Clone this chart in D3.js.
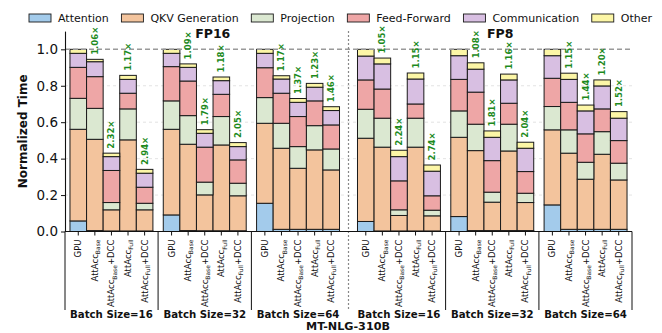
<!DOCTYPE html>
<html><head><meta charset="utf-8">
<script src="https://cdn.jsdelivr.net/npm/d3@7"></script>
<style>body{margin:0;background:#fff} svg{display:block;font-family:"DejaVu Sans",sans-serif}</style>
</head><body><svg id="c" width="662" height="333"></svg>
<script>
// ---------- data ----------
const precisions = ["FP16", "FP8"];
const batchLabels = ["Batch Size=16", "Batch Size=32", "Batch Size=64"];
const configs = ["GPU", "AttAcc_Base", "AttAcc_Base+DCC", "AttAcc_Full", "AttAcc_Full+DCC"];
const seriesNames = ["Attention", "QKV Generation", "Projection", "Feed-Forward", "Communication", "Other"];
const seriesColors = ["#a3cbeb", "#f3c49d", "#dbe8d1", "#eea6a6", "#d8bfe2", "#fcf6a6"];
// order: FP16 B16 (5 bars), FP16 B32, FP16 B64, FP8 B16, FP8 B32, FP8 B64
const attention = [
  0.058, 0.005, 0.003, 0.003, 0.003,
  0.091, 0.005, 0.004, 0.004, 0.004,
  0.155, 0.012, 0.012, 0.012, 0.012,
  0.055, 0.003, 0.003, 0.003, 0.003,
  0.082, 0.005, 0.005, 0.005, 0.005,
  0.146, 0.012, 0.012, 0.012, 0.012];
const qkvGeneration = [
  0.503, 0.501, 0.116, 0.500, 0.116,
  0.470, 0.474, 0.197, 0.471, 0.192,
  0.439, 0.445, 0.335, 0.436, 0.326,
  0.457, 0.460, 0.085, 0.460, 0.083,
  0.435, 0.439, 0.156, 0.437, 0.154,
  0.412, 0.418, 0.275, 0.412, 0.271];
const projection = [
  0.170, 0.170, 0.040, 0.170, 0.036,
  0.156, 0.157, 0.070, 0.156, 0.069,
  0.141, 0.137, 0.119, 0.133, 0.115,
  0.159, 0.159, 0.031, 0.159, 0.031,
  0.145, 0.145, 0.055, 0.147, 0.051,
  0.128, 0.128, 0.093, 0.124, 0.092];
const feedForward = [
  0.170, 0.174, 0.176, 0.086, 0.088,
  0.188, 0.190, 0.192, 0.122, 0.128,
  0.164, 0.165, 0.165, 0.136, 0.132,
  0.161, 0.160, 0.159, 0.078, 0.079,
  0.173, 0.176, 0.173, 0.115, 0.119,
  0.155, 0.151, 0.156, 0.125, 0.124];
const communication = [
  0.077, 0.082, 0.076, 0.076, 0.077,
  0.073, 0.075, 0.076, 0.075, 0.073,
  0.079, 0.078, 0.078, 0.075, 0.079,
  0.131, 0.138, 0.133, 0.137, 0.135,
  0.130, 0.126, 0.128, 0.128, 0.128,
  0.124, 0.126, 0.126, 0.126, 0.123];
const other = [
  0.022, 0.013, 0.019, 0.022, 0.021,
  0.022, 0.019, 0.020, 0.020, 0.022,
  0.022, 0.018, 0.021, 0.021, 0.021,
  0.037, 0.032, 0.035, 0.033, 0.034,
  0.035, 0.035, 0.035, 0.032, 0.033,
  0.035, 0.034, 0.032, 0.033, 0.036];
const speedupLabels = [
  "", "1.06×", "2.32×", "1.17×", "2.94×",
  "", "1.09×", "1.79×", "1.18×", "2.05×",
  "", "1.17×", "1.37×", "1.23×", "1.46×",
  "", "1.05×", "2.24×", "1.15×", "2.74×",
  "", "1.08×", "1.81×", "1.16×", "2.04×",
  "", "1.15×", "1.44×", "1.20×", "1.52×"];
const yTicks = [0, 0.2, 0.4, 0.6, 0.8, 1.0];
const modelName = "MT-NLG-310B";

// ---------- layout ----------
const svg = d3.select("#c");
const pad = 0.3, groupGap = 0.625, halfGap = 1.084, nb = configs.length;
const nGroups = precisions.length * batchLabels.length;
const total = 2 * pad + nGroups * nb + (nGroups - 2) * groupGap + halfGap;
const x = d3.scaleLinear().domain([0, total]).range([65, 632]);
const y = d3.scaleLinear().domain([0, 1.1]).range([231.5, 31.1]);
const groupStart = k => { const p = Math.floor(k / batchLabels.length); return pad + k * nb + (k - p) * groupGap + p * halfGap; };
const sepBottom = 310;

const rows = [];
for (let k = 0; k < nGroups; k++) for (let b = 0; b < nb; b++) {
  const i = k * nb + b;
  rows.push({i, k, b, u: groupStart(k) + b,
    "Attention": attention[i], "QKV Generation": qkvGeneration[i], "Projection": projection[i],
    "Feed-Forward": feedForward[i], "Communication": communication[i], "Other": other[i]});
}
const stack = d3.stack().keys(seriesNames)(rows);

// grid
const grid = svg.append("g");
grid.selectAll("line").data(yTicks.filter(v => v > 0 && v < 1)).join("line")
  .attr("x1", x(0)).attr("x2", x(total)).attr("y1", d => y(d)).attr("y2", d => y(d))
  .attr("stroke", "#dcdcdc").attr("stroke-width", 0.8).attr("stroke-dasharray", "3,3");

// bars
const bw = x(1) - x(0);
svg.append("g").selectAll("g").data(stack).join("g")
  .attr("fill", (d, i) => seriesColors[i])
  .selectAll("rect").data(d => d).join("rect")
  .attr("x", d => x(d.data.u)).attr("width", bw)
  .attr("y", d => y(d[1])).attr("height", d => Math.max(0, y(d[0]) - y(d[1])))
  .attr("stroke", "#1a1a1a").attr("stroke-width", 1);

// 1.0 reference line
svg.append("line").attr("x1", x(0)).attr("x2", x(total)).attr("y1", y(1)).attr("y2", y(1))
  .attr("stroke", "#9a9a9a").attr("stroke-width", 1.4).attr("stroke-dasharray", "5,3");

// separators
const seps = [0, total];
for (let k = 1; k < nGroups; k++) if (k !== batchLabels.length) seps.push(groupStart(k) - groupGap / 2);
svg.append("g").selectAll("line").data(seps).join("line")
  .attr("x1", d => x(d)).attr("x2", d => x(d)).attr("y1", y(0)).attr("y2", sepBottom)
  .attr("stroke", "#111").attr("stroke-width", 1);
const mid = groupStart(batchLabels.length) - halfGap / 2;
svg.append("line").attr("x1", x(mid)).attr("x2", x(mid)).attr("y1", y(1.1)).attr("y2", sepBottom)
  .attr("stroke", "#888").attr("stroke-width", 1.2).attr("stroke-dasharray", "2,2");

// y axis
const yAxis = svg.append("g").attr("transform", `translate(${x(0)},0)`)
  .call(d3.axisLeft(y).tickValues(yTicks).tickFormat(d3.format(".1f")).tickSize(4).tickSizeOuter(0));
yAxis.select(".domain").attr("stroke", "#111").attr("stroke-width", 1.1);
yAxis.selectAll(".tick line").attr("stroke", "#111");
yAxis.selectAll(".tick text").attr("font-size", 13.5).attr("fill", "#111").attr("font-family", "DejaVu Sans").attr("x", -7);

// x axis line + ticks
svg.append("line").attr("x1", x(0)).attr("x2", x(total)).attr("y1", y(0)).attr("y2", y(0))
  .attr("stroke", "#111").attr("stroke-width", 1.1);
svg.append("g").selectAll("line").data(rows).join("line")
  .attr("x1", d => x(d.u + 0.5)).attr("x2", d => x(d.u + 0.5)).attr("y1", y(0)).attr("y2", y(0) + 4)
  .attr("stroke", "#111");

// x tick labels (rotated, with subscript)
const tl = svg.append("g").selectAll("text").data(rows).join("text")
  .attr("transform", d => `translate(${x(d.u + 0.5)},${y(0) + 8}) rotate(-90)`)
  .attr("text-anchor", "end").attr("dominant-baseline", "central")
  .attr("font-size", 8.5).attr("fill", "#111");
tl.each(function(d) {
  const lab = configs[d.b]; const t = d3.select(this);
  const m = lab.match(/^([^_]+)_([A-Za-z]+)(.*)$/);
  if (!m) { t.text(lab); return; }
  t.append("tspan").text(m[1]);
  t.append("tspan").text(m[2]).attr("font-size", 6).attr("dy", 2.2);
  if (m[3]) t.append("tspan").text(m[3]).attr("dy", -2.2);
});

// speedup labels
svg.append("g").selectAll("text").data(rows.filter(d => speedupLabels[d.i])).join("text")
  .attr("transform", d => { const top = d3.sum(seriesNames, s => d[s]); return `translate(${x(d.u + 0.5)},${y(top) - 4.5}) rotate(-90)`; })
  .attr("text-anchor", "start").attr("dominant-baseline", "central")
  .attr("font-size", 8.5).attr("font-weight", "bold").attr("fill", "#1d8a1d")
  .text(d => speedupLabels[d.i]);

// batch labels
const batchData = d3.range(nGroups).map(k => ({k, label: batchLabels[k % batchLabels.length]}));
svg.append("g").selectAll("text").data(batchData).join("text")
  .attr("x", d => x(groupStart(d.k) + nb / 2)).attr("y", 318)
  .attr("text-anchor", "middle").attr("font-size", 10.2).attr("font-weight", "bold").attr("fill", "#111")
  .text(d => d.label);

// precision titles
svg.append("g").selectAll("text").data(precisions).join("text")
  .attr("x", (d, p) => x(groupStart(p * batchLabels.length + 1) + nb / 2) + 8).attr("y", 38)
  .attr("text-anchor", "middle").attr("font-size", 12.5).attr("font-weight", "bold").attr("fill", "#111")
  .text(d => d);

// model name
svg.append("text").attr("x", 348).attr("y", 330).attr("text-anchor", "middle")
  .attr("font-size", 11.2).attr("font-weight", "bold").attr("fill", "#111").text(modelName);

// y label
svg.append("text").attr("transform", `translate(27,${(y(0) + y(1.1)) / 2}) rotate(-90)`)
  .attr("text-anchor", "middle").attr("font-size", 12).attr("font-weight", "bold").attr("fill", "#111")
  .text("Normalized Time");

// legend
const lg = svg.append("g");
const lFont = 11, swW = 22, swH = 8, swPad = 7, lx0 = 29, lx1 = 652, ly = 18;
const items = lg.selectAll("g").data(seriesNames).join("g");
items.append("text").attr("font-size", lFont).attr("fill", "#111").attr("dominant-baseline", "central").text(d => d);
const widths = []; items.select("text").each(function() { widths.push(this.getComputedTextLength()); });
const gap = (lx1 - lx0 - d3.sum(widths) - seriesNames.length * (swW + swPad)) / (seriesNames.length - 1);
let cx = lx0;
items.each(function(d, i) {
  const g = d3.select(this);
  g.insert("rect", "text").attr("x", cx).attr("y", ly - swH / 2).attr("width", swW).attr("height", swH)
    .attr("fill", seriesColors[i]).attr("stroke", "#1a1a1a").attr("stroke-width", 0.9);
  g.select("text").attr("x", cx + swW + swPad).attr("y", ly);
  cx += swW + swPad + widths[i] + gap;
});
</script></body></html>
